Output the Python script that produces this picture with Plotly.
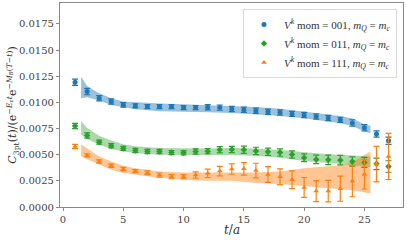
import plotly.graph_objects as go

t = list(range(1, 28))

blue = [0.01193, 0.01103, 0.0104, 0.01008, 0.00976, 0.00967, 0.0096, 0.0096, 0.0096, 0.0095,
        0.0095, 0.00954, 0.0095, 0.00937, 0.0093, 0.0092, 0.0091, 0.00903, 0.0089, 0.0088,
        0.00865, 0.0085, 0.00833, 0.00804, 0.00758, 0.00697, 0.00633]
blue_err = [0.0003, 0.0003, 0.00025, 0.00025, 0.00022, 0.0002, 0.0002, 0.0002, 0.0002, 0.0002,
            0.0002, 0.00025, 0.00025, 0.00025, 0.00025, 0.00025, 0.00025, 0.00025, 0.00025, 0.00025,
            0.00025, 0.00025, 0.00025, 0.0003, 0.0003, 0.0003, 0.00035]
green = [0.00775, 0.00683, 0.0062, 0.00585, 0.0056, 0.0054, 0.0053, 0.0053, 0.0052, 0.00518,
         0.0053, 0.00534, 0.00547, 0.0055, 0.00547, 0.00536, 0.00528, 0.0052, 0.00502, 0.0047,
         0.00455, 0.00451, 0.00448, 0.00435, 0.00426, 0.00413, 0.00387]
green_err = [0.00025, 0.00025, 0.0002, 0.0002, 0.0002, 0.0002, 0.0002, 0.0002, 0.0002, 0.0002,
             0.00025, 0.00025, 0.0003, 0.0003, 0.00035, 0.00035, 0.00035, 0.00035, 0.00035, 0.00037,
             0.0004, 0.00045, 0.00045, 0.00045, 0.00048, 0.00055, 0.00055]
orange = [0.00578, 0.00493, 0.00435, 0.00394, 0.00363, 0.00343, 0.00328, 0.00305, 0.0029, 0.0029,
          0.00305, 0.00322, 0.00343, 0.00363, 0.00365, 0.00348, 0.0031, 0.00289, 0.0026, 0.00187,
          0.00152, 0.00152, 0.00175, 0.00248, 0.00312, 0.0041, 0.00483]
orange_err = [0.0002, 0.00015, 0.00015, 0.00015, 0.00015, 0.00015, 0.00018, 0.0002, 0.0002, 0.0002,
              0.0003, 0.0004, 0.00045, 0.0005, 0.0006, 0.0007, 0.00075, 0.00075, 0.00085, 0.00095,
              0.001, 0.00103, 0.0012, 0.0015, 0.0014, 0.0017, 0.0022]

band_t = [1.5, 2, 3, 4, 5, 6, 8, 10, 12, 14, 16, 18, 20, 22, 23, 24, 25, 25.5]
blue_lo = [0.0104, 0.0105, 0.01017, 0.00976, 0.00954, 0.00935, 0.00915, 0.00912, 0.00905, 0.00898,
           0.00885, 0.0087, 0.00849, 0.00818, 0.008, 0.00775, 0.00722, 0.00706]
blue_hi = [0.01246, 0.01157, 0.01088, 0.0104, 0.01008, 0.01, 0.0099, 0.00982, 0.00975, 0.00965,
           0.00955, 0.0094, 0.00912, 0.00885, 0.0087, 0.00845, 0.00792, 0.00776]
green_lo = [0.0069, 0.00649, 0.00594, 0.00555, 0.0053, 0.00515, 0.005, 0.00495, 0.00495, 0.00495,
            0.0049, 0.0047, 0.0044, 0.0042, 0.0041, 0.004, 0.0039, 0.00382]
green_hi = [0.00823, 0.00754, 0.0068, 0.00635, 0.006, 0.0058, 0.00565, 0.0056, 0.0056, 0.00565,
            0.0056, 0.00545, 0.00522, 0.00505, 0.005, 0.00495, 0.0049, 0.00483]
orange_lo = [0.00483, 0.00458, 0.00404, 0.00356, 0.00324, 0.0031, 0.0028, 0.0026, 0.0025, 0.0025,
             0.0023, 0.0022, 0.002, 0.0018, 0.0017, 0.0016, 0.0014, 0.0013]
orange_hi = [0.006, 0.0056, 0.00483, 0.00435, 0.00394, 0.0037, 0.0034, 0.0033, 0.0033, 0.0033,
             0.0033, 0.0034, 0.0037, 0.0039, 0.004, 0.0043, 0.005, 0.0053]

labels = ["001", "011", "111"]
colors = ["#1f77b4", "#2ca02c", "#ff7f0e"]
fills = ["rgba(31,119,180,0.45)", "rgba(44,160,44,0.4)", "rgba(255,127,14,0.45)"]
symbols = ["circle", "diamond", "triangle-up"]

FONT = "DejaVu Serif"
LFONT = "Liberation Serif"

fig = go.Figure()
series = [(blue, blue_err, blue_lo, blue_hi), (green, green_err, green_lo, green_hi),
          (orange, orange_err, orange_lo, orange_hi)]
for i, (vals, errs, lo, hi) in enumerate(series):
    fig.add_trace(go.Scatter(x=band_t + band_t[::-1], y=hi + lo[::-1], fill="toself",
                             fillcolor=fills[i], line=dict(width=0), mode="lines",
                             hoverinfo="skip", showlegend=False))
for i, (vals, errs, lo, hi) in enumerate(series):
    name = ("<i>V</i><sup><i>k</i></sup> mom = " + labels[i] +
            ", <i>m</i><sub><i>Q</i></sub> = <i>m</i><sub><i>c</i></sub>")
    fig.add_trace(go.Scatter(x=t, y=vals, mode="markers", name=name,
                             marker=dict(color=colors[i], size=5, symbol=symbols[i]),
                             error_y=dict(type="data", array=errs, visible=True,
                                          color=colors[i], thickness=1.2, width=3)))

fig.update_layout(
    width=407, height=240,
    margin=dict(l=60, r=4, t=3, b=33, autoexpand=False),
    paper_bgcolor="white", plot_bgcolor="white",
    font=dict(family=FONT, size=10, color="#444"),
    legend=dict(x=0.9825, y=0.97, xanchor="right", yanchor="top",
                bgcolor="rgba(255,255,255,0.85)", bordercolor="#d9d9d9", borderwidth=1,
                font=dict(family=LFONT, size=11, color="#333"),
                tracegroupgap=0, itemwidth=30),
    showlegend=True,
    annotations=[
        dict(text="<i>t</i>/<i>a</i>", x=0.5, y=-0.113, xref="paper", yref="paper",
             xanchor="center", yanchor="middle", showarrow=False,
             font=dict(family=FONT, size=12, color="#333")),
        dict(text="<i>C</i><sub>3pt</sub>(<i>t</i>)/(e<sup>−<i>E</i><sub>π</sub><i>t</i></sup>e<sup>−<i>M</i><sub><i>B</i></sub>(<i>T</i>−<i>t</i>)</sup>)",
             x=-0.138, y=0.5, xref="paper", yref="paper", textangle=-90,
             xanchor="center", yanchor="middle", showarrow=False,
             font=dict(family=FONT, size=11, color="#333")),
    ],
)
fig.update_xaxes(range=[-0.25, 28.2], dtick=5, tick0=0, showgrid=False, zeroline=False,
                 showline=True, linecolor="#888", linewidth=1.2, mirror=True, automargin=False,
                 ticks="outside", ticklen=3, tickcolor="#888")
fig.update_yaxes(range=[0, 0.0195], dtick=0.0025, tick0=0, tickformat=".4f", showgrid=False,
                 zeroline=False, showline=True, linecolor="#888", linewidth=1.2, mirror=True,
                 automargin=False, ticks="outside", ticklen=3, tickcolor="#888")

fig.write_html("out.html", config={"displayModeBar": False},
               post_script="document.body.style.margin='0';document.body.style.padding='0';")
